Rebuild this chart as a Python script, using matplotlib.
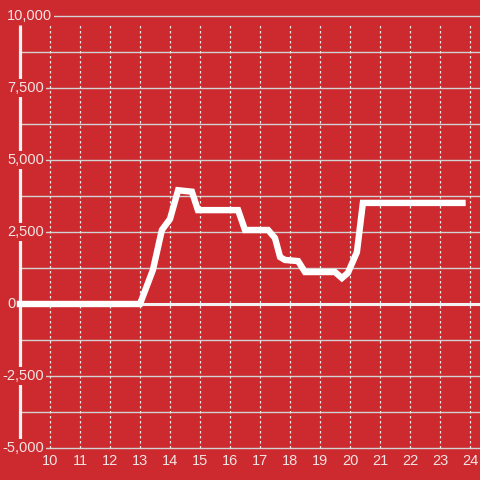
import matplotlib
matplotlib.use('Agg')
import matplotlib.pyplot as plt
import numpy as np

# values
hours = [9, 13, 13.43, 13.73, 14.0, 14.27, 14.73, 14.93, 16.27, 16.5, 17.27, 17.5,
         17.67, 17.83, 18.27, 18.5, 19.5, 19.73, 19.93, 20.23, 20.43, 23.75]
values = [0, 0, 1180, 2570, 2950, 3950, 3900, 3260, 3260, 2570, 2570, 2290,
          1630, 1530, 1490, 1110, 1110, 900, 1080, 1800, 3510, 3510]
xticks = list(range(10, 25))
yticks = [-5000, -2500, 0, 2500, 5000, 7500, 10000]
ylabels = ['-5,000', '-2,500', '0', '2,500', '5,000', '7,500', '10,000']

bg = '#cc2a2f'
fg = '#f3e4e4'
grid = '#d2d2d2'
plt.rcParams['font.family'] = ['Liberation Sans', 'DejaVu Sans']

fig = plt.figure(figsize=(4.8, 4.8), dpi=100)
fig.patch.set_facecolor(bg)
ax = fig.add_axes([0, 0, 1, 1])
ax.set_facecolor(bg)
ax.axis('off')

# pixel mapping: x=10 at 50px, 30px per hour; y=0 at 304px, 72px per 2500
ax.set_xlim(10 - 50 / 30, 10 + 430 / 30)
ax.set_ylim(-(480 - 304) * 2500 / 72, 304 * 2500 / 72)
x_axis = 10 + (20.5 - 50) / 30
x_right = ax.get_xlim()[1]

# horizontal grid (every 1250)
for v in np.arange(-5000, 10001, 1250):
    ax.hlines(v, x_axis, x_right, color=grid, lw=1.0, zorder=1)
# vertical dotted grid
ax.vlines(xticks, -5000, 9750, color='#e8e8e8', lw=0.9, linestyles=(0, (2, 2)), zorder=1)

# axis line and zero line
ax.vlines(x_axis, -5000, 9700, color='#f2f2f2', lw=2.3, zorder=2)
ax.hlines(0, x_axis, x_right, color='#f2f2f2', lw=2.2, zorder=2)

# data
ax.plot(hours, values, color='white', lw=4.6, solid_capstyle='projecting',
        solid_joinstyle='miter', zorder=4)

# y labels
for v, lab in zip(yticks, ylabels):
    dx = -18.5 if lab.startswith('-') else -13.5
    ax.annotate(lab, xy=(x_axis, v), xytext=(dx, 0), textcoords='offset pixels',
                ha='left', va='center', fontsize=10.5, color=fg, zorder=3,
                bbox=dict(facecolor=bg, edgecolor='none', pad=1.5))

# x labels
for x in xticks:
    ax.annotate(str(x), xy=(x, -5000), xytext=(0, -13), textcoords='offset pixels',
                ha='center', va='center', fontsize=10.5, color=fg, zorder=3)

fig.savefig('out.png', dpi=100, facecolor=bg)
